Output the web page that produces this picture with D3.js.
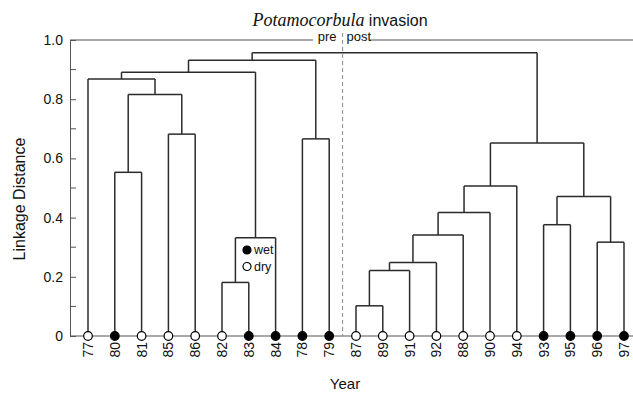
<!DOCTYPE html>
<html>
<head>
<meta charset="utf-8">
<script src="https://cdn.jsdelivr.net/npm/d3@7"></script>
<style>
  html, body { margin: 0; padding: 0; background: #fff; }
  svg { display: block; }
</style>
</head>
<body>
<svg id="chart" width="633" height="393"></svg>
<script>
// ---- data ----
const years = ["77","80","81","85","86","82","83","84","78","79","87","89","91","92","88","90","94","93","95","96","97"];
const wetYears = ["80","83","84","78","79","93","95","96","97"];
// merges: node n<i> = mergeLeft[i] + mergeRight[i] at linkage distance mergeHeight[i]
const mergeLeft   = ["80","85","n0","77","82","n4","n3","78","n6","87","n9","n10","n11","n12","n13","93","96","n15","n14","n8"];
const mergeRight  = ["81","86","n1","n2","83","84","n5","79","n7","89","91","92","88","90","94","95","97","n16","n17","n18"];
const mergeHeight = [0.553,0.682,0.816,0.868,0.181,0.332,0.891,0.666,0.932,0.102,0.221,0.248,0.341,0.417,0.507,0.376,0.317,0.471,0.652,0.957];
const yTicks = [0, 0.2, 0.4, 0.6, 0.8, 1.0];
const yMinorTicks = [0.1, 0.3, 0.5, 0.7, 0.9];
const legendLabels = ["wet", "dry"];

// ---- layout ----
const svg = d3.select("#chart");
const x = d3.scalePoint().domain(years).range([88, 624]);
const y = d3.scaleLinear().domain([0, 1]).range([336, 40]);
const axisColor = "#555";
const lineColor = "#2b2b2b";
const sans = "Liberation Sans, Arial, sans-serif";

// node positions
const pos = {};
years.forEach(k => { pos[k] = { x: x(k), h: 0 }; });
mergeLeft.forEach((l, i) => {
  const a = pos[l], b = pos[mergeRight[i]];
  pos["n" + i] = { x: (a.x + b.x) / 2, h: mergeHeight[i], a: a, b: b };
});

// top line at 1.0 (broken for pre/post labels)
svg.append("line").attr("x1", 70).attr("x2", 313).attr("y1", y(1)).attr("y2", y(1))
  .attr("stroke", axisColor).attr("stroke-width", 1);
svg.append("line").attr("x1", 369).attr("x2", 633).attr("y1", y(1)).attr("y2", y(1))
  .attr("stroke", axisColor).attr("stroke-width", 1);
// baseline
svg.append("line").attr("x1", 70).attr("x2", 633).attr("y1", y(0)).attr("y2", y(0))
  .attr("stroke", axisColor).attr("stroke-width", 1);

// dashed pre/post divider
const divX = (x("79") + x("87")) / 2;
svg.append("line").attr("x1", divX).attr("x2", divX).attr("y1", 33).attr("y2", y(0))
  .attr("stroke", "#8a8a8a").attr("stroke-width", 1).attr("stroke-dasharray", "4,3");
svg.append("text").attr("x", divX - 6).attr("y", 41).attr("text-anchor", "end")
  .attr("font-family", sans).attr("font-size", 13).attr("fill", "#111").text("pre");
svg.append("text").attr("x", divX + 4).attr("y", 41).attr("text-anchor", "start")
  .attr("font-family", sans).attr("font-size", 13).attr("fill", "#111").text("post");

// y axis
const yAxis = d3.axisLeft(y).tickValues(yTicks)
  .tickFormat(d => d === 0 ? "0" : d3.format(".1f")(d))
  .tickSizeInner(-6).tickSizeOuter(0).tickPadding(7);
const gy = svg.append("g").attr("transform", "translate(70,0)").call(yAxis);
gy.select(".domain").attr("stroke", axisColor);
gy.selectAll(".tick line").attr("stroke", axisColor);
gy.selectAll(".tick text").attr("font-family", sans).attr("font-size", 14).attr("fill", "#111");
svg.append("g").selectAll("line").data(yMinorTicks).join("line")
  .attr("x1", 70).attr("x2", 76).attr("y1", d => y(d)).attr("y2", d => y(d))
  .attr("stroke", axisColor);

// dendrogram links
const g = svg.append("g").attr("fill", "none").attr("stroke", lineColor).attr("stroke-width", 1.5);
mergeLeft.forEach((l, i) => {
  const n = pos["n" + i];
  [n.a, n.b].forEach(c => {
    g.append("path").attr("d", `M${c.x},${y(c.h)}V${y(n.h)}`);
  });
  g.append("path").attr("d", `M${n.a.x},${y(n.h)}H${n.b.x}`);
});

// leaf markers
svg.append("g").selectAll("circle").data(years).join("circle")
  .attr("cx", d => x(d)).attr("cy", y(0)).attr("r", 4.3)
  .attr("fill", d => wetYears.includes(d) ? "#000" : "#fff")
  .attr("stroke", "#000").attr("stroke-width", 1.2);

// leaf labels
svg.append("g").selectAll("text").data(years).join("text")
  .attr("transform", d => `translate(${x(d)},342) rotate(-90)`)
  .attr("text-anchor", "end").attr("dy", "0.36em")
  .attr("font-family", sans).attr("font-size", 14).attr("fill", "#111")
  .text(d => d);

// legend
const lg = svg.append("g").attr("transform", "translate(247,250)");
legendLabels.forEach((t, i) => {
  lg.append("circle").attr("cx", 0).attr("cy", i * 16.5).attr("r", 4)
    .attr("fill", t === "wet" ? "#000" : "#fff").attr("stroke", "#000").attr("stroke-width", 1.2);
  lg.append("text").attr("x", 7).attr("y", i * 16.5).attr("dy", "0.35em")
    .attr("font-family", sans).attr("font-size", 12.5).attr("fill", "#111").text(t);
});

// titles
const title = svg.append("text").attr("x", 340).attr("y", 26).attr("text-anchor", "middle").attr("fill", "#111");
title.append("tspan").attr("font-family", "Liberation Serif, Times New Roman, serif")
  .attr("font-style", "italic").attr("font-size", 18).text("Potamocorbula");
title.append("tspan").attr("font-family", sans).attr("font-size", 16).text(" invasion");

svg.append("text").attr("transform", "translate(25,199) rotate(-90)").attr("text-anchor", "middle")
  .attr("font-family", sans).attr("font-size", 16).attr("fill", "#111").text("Linkage Distance");
svg.append("text").attr("x", 345).attr("y", 389).attr("text-anchor", "middle")
  .attr("font-family", sans).attr("font-size", 15).attr("fill", "#111").text("Year");
</script>
</body>
</html>
